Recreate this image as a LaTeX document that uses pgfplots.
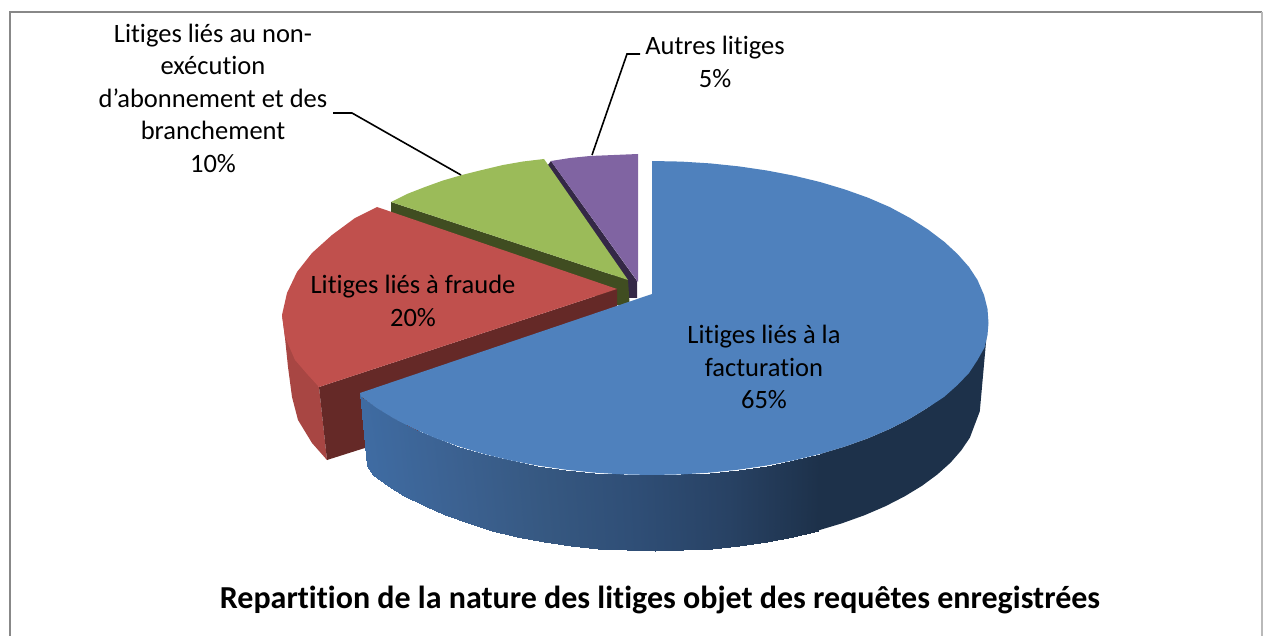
\documentclass[border=0pt]{standalone}
\usepackage{fontspec}
\setmainfont{Carlito}[Ligatures={NoCommon,NoRequired,NoContextual}]
\usepackage{pgfplots}
\pgfplotsset{compat=1.18}
\definecolor{bluetop}{RGB}{79,129,189}
\definecolor{bluedark}{RGB}{29,49,74}
\definecolor{redtop}{RGB}{192,80,77}
\definecolor{redside}{RGB}{168,70,67}
\definecolor{redwall}{RGB}{101,41,39}
\definecolor{greentop}{RGB}{155,187,89}
\definecolor{greenwall}{RGB}{64,77,33}
\definecolor{purpletop}{RGB}{128,100,162}
\definecolor{purplewall}{RGB}{52,40,70}
\begin{document}
\begin{tikzpicture}
\path[use as bounding box] (0,0) rectangle (1264pt,636pt);
\begin{axis}[
  at={(0,0)}, anchor=south west,
  scale only axis, width=1264pt, height=636pt,
  xmin=0, xmax=1264, ymin=0, ymax=636, y dir=reverse,
  axis lines=none, clip=true,
  colormap={side}{rgb255=(63,108,163) rgb255=(60,98,146) rgb255=(54,88,129) rgb255=(47,78,118) rgb255=(40,66,100) rgb255=(29,49,74)},
  point meta min=360, point meta max=820,
]
% frame
\addplot[draw={rgb,255:red,136;green,136;blue,136}, line width=1.8pt] coordinates {(10,636) (10,12) (1262,12)};
\addplot[draw={rgb,255:red,185;green,185;blue,185}, line width=1.2pt] coordinates {(1262,12) (1262,636)};
% purple slice
\addplot[fill=purplewall, draw=none] coordinates {(551,161) (637,281) (637,298) (628,298) (544,170)} -- cycle;
\addplot[fill=purpletop, draw=none] coordinates {(551,161) (570,158) (590,156) (614,155) (638,154) (638,282)} -- cycle;
% green slice
\addplot[fill=greenwall, draw=none] coordinates {(391,202) (628,280) (630,310) (391,214)} -- cycle;
\addplot[fill=greentop, draw=none] coordinates {(391,202) (407,194) (425,187) (443,180.5) (462,175) (482,170) (503,165) (523,161.5) (544,159) (628,280)} -- cycle;
% red slice
\addplot[fill=redside, draw=none] coordinates {(282,315) (285,338) (288,367) (292,397) (298,420) (312,443) (327,460) (319,387)} -- cycle;
\addplot[fill=redwall, draw=none] coordinates {(319,387) (617,289) (617,368) (327,460)} -- cycle;
\addplot[fill=redtop, draw=none] coordinates {(617,289) (377,207) (355,218) (332,235) (312,253) (297,272) (287,293) (282,315) (285,337) (295,360) (308,375) (319,387)} -- cycle;
% blue side, lighter part
\addplot[patch, patch type=rectangle, shader=interp, point meta=explicit] table[x=x, y=y, meta=c] {
x y c
360 393 363
361 396.5 367
372.7 474.5 367
367 466 363
361 396.5 367
376.8 408 382
388 485.8 382
372.7 474.5 367
376.8 408 382
394.6 418.9 399
404.3 496.3 399
388 485.8 382
394.6 418.9 399
414.4 429 419
424.5 506.2 419
404.3 496.3 399
414.4 429 419
436 438.3 441
445.4 515.2 441
424.5 506.2 419
436 438.3 441
459.3 446.6 464
468 523.3 464
445.4 515.2 441
459.3 446.6 464
484 454 488
492 530.5 488
468 523.3 464
484 454 488
510 460.3 514
517.2 536.7 514
492 530.5 488
510 460.3 514
537.1 465.5 540
543.5 541.8 540
517.2 536.7 514
537.1 465.5 540
565 469.6 568
570.6 545.8 568
543.5 541.8 540
565 469.6 568
593.7 472.6 596
598.4 548.7 596
570.6 545.8 568
593.7 472.6 596
622.7 474.4 625
626.6 550.4 625
598.4 548.7 596
622.7 474.4 625
652 475 654
655 551 654
626.6 550.4 625
652 475 654
681.3 474.4 682
683.4 550.4 682
655 551 654
681.3 474.4 682
710.3 472.6 711
711.6 548.7 711
683.4 550.4 682
710.3 472.6 711
739 469.6 739
739.4 545.8 739
711.6 548.7 711
739 469.6 739
766.9 465.5 767
766.5 541.8 767
739.4 545.8 739
766.9 465.5 767
794 460.3 793
792.8 536.7 793
766.5 541.8 767
794 460.3 793
820 454 820
818 530.5 820
792.8 536.7 793
};
% blue side, dark part
\addplot[fill=bluedark, draw=none] coordinates {
(820,454) (844.7,446.6) (868,438.3) (889.6,429) (909.4,418.9) (927.2,408) (943,396.5) (956.5,384.3) (967.7,371.7) (976.5,358.6) (982.9,345.3) (986.7,331.7) (988,320)
(981,398) (979.8,411.3) (969.9,437.6) (961.3,450.3) (950.5,462.7) (937.3,474.5) (922,485.8) (904.7,496.3) (885.5,506.2) (864.6,515.2) (842,523.3) (818,530.5)} -- cycle;
% blue top
\addplot[fill=bluetop, draw=none] coordinates {
(652,294) (652,161) (681.3,161.6) (710.3,163.4) (739,166.4) (766.9,170.5) (794,175.7) (820,182) (844.7,189.4) (868,197.7) (889.6,207) (910,218) (928,229.5) (944.5,242) (957.5,254) (969,267) (977.5,280) (984,295) (987.5,309) (988.5,323) (987.5,335) (984.5,347.5) (977.5,360) (969,373) (957.5,385) (944,397) (927.2,408) (909.4,418.9) (889.6,429) (868,438.3) (844.7,446.6) (820,454) (794,460.3) (766.9,465.5) (739,469.6) (710.3,472.6) (681.3,474.4) (652,475) (622.7,474.4) (593.7,472.6) (565,469.6) (537.1,465.5) (510,460.3) (484,454) (459.3,446.6) (436,438.3) (414.4,429) (394.6,418.9) (376.8,408) (361,396.5) (360,393)} -- cycle;
% leader lines
\addplot[black, line width=1.6pt] coordinates {(461,175) (352,113) (333,113)};
\addplot[black, line width=1.6pt] coordinates {(592,155) (627,54) (640,54)};
% labels
\node[align=center, font=\fontsize{26.5}{32.5}\selectfont] at (axis cs:715,62) {Autres litiges\\5\%};
\node[align=center, font=\fontsize{26.5}{32.5}\selectfont] at (axis cs:213,98) {Litiges liés au non-\\exécution\\d’abonnement et des\\branchement\\10\%};
\node[align=center, font=\fontsize{26.5}{32.5}\selectfont] at (axis cs:413,301) {Litiges liés à fraude\\20\%};
\node[align=center, font=\fontsize{26.5}{32.5}\selectfont] at (axis cs:764,367) {Litiges liés à la\\facturation\\65\%};
\node[font=\fontsize{32}{38}\selectfont\bfseries] at (axis cs:660,600) {Repartition de la nature des litiges objet des requêtes enregistrées};
\end{axis}
\end{tikzpicture}
\end{document}
